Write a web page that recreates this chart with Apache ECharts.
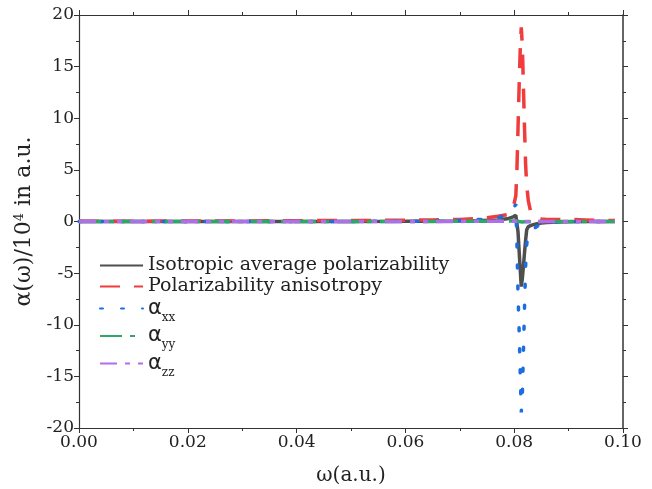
<!DOCTYPE html>
<html>
<head>
<meta charset="utf-8">
<script src="https://cdn.jsdelivr.net/npm/echarts@6/dist/echarts.min.js"></script>
<style>html,body{margin:0;padding:0;background:#fff}#c{width:652px;height:489px}</style>
</head>
<body>
<div id="c"></div>
<script>
var omega = [0, 0.01, 0.02, 0.03, 0.04, 0.05, 0.06, 0.065, 0.07, 0.074, 0.077, 0.079, 0.0798, 0.0803,
  0.0805, 0.0807, 0.0809, 0.0811, 0.0813, 0.0815, 0.0817, 0.0819, 0.0821, 0.0823,
  0.0826, 0.083, 0.0835, 0.084, 0.0845, 0.085, 0.086, 0.088, 0.09, 0.093, 0.096, 0.0985];
var isoValues = [0, 0, 0, 0, 0, 0.01, 0.02, 0.03, 0.05, 0.1, 0.15, 0.3, 0.45, 0.6,
  0.7, -1.0, -2.8, -4.6, -6.3, -5.5, -4.3, -3.0, -1.8, -0.8,
  -0.5, -0.4, -0.3, -0.25, -0.2, -0.15, -0.1, -0.05, -0.02, 0, 0, 0];
var anisoValues = [0.02, 0.03, 0.05, 0.05, 0.08, 0.1, 0.12, 0.15, 0.2, 0.3, 0.5, 0.7, 1.3, 2.5,
  5, 9, 13, 16.5, 18.8, 17, 13, 9, 5.5, 3.5,
  2, 1, 0.6, 0.4, 0.3, 0.25, 0.2, 0.2, 0.2, 0.15, 0.1, 0.1];
var xxValues = [0, 0, 0, 0, 0, 0.01, 0.02, 0.05, 0.1, 0.2, 0.35, 0.7, 1.2, 1.7,
  -2, -7, -10.4, -14.5, -18.5, -16.6, -12.5, -8.3, -4.3, -2.2,
  -1.3, -0.9, -0.7, -0.55, -0.35, -0.2, -0.1, -0.05, -0.02, 0, 0, 0];
var yyValues = [0, 0, 0, 0, 0, 0, 0.01, 0.01, 0.02, 0.03, 0.04, 0.05, 0.05, 0.06,
  0.05, 0.03, 0, -0.03, -0.05, -0.05, -0.04, -0.03, -0.02, -0.02,
  -0.01, -0.01, 0, 0, 0, 0, 0, 0, 0, 0, 0, 0];
var zzValues = [0, 0, 0, 0, 0, 0, 0, 0.01, 0.01, 0.02, 0.02, 0.03, 0.03, 0.03,
  0.02, 0.01, 0, -0.01, -0.02, -0.02, -0.02, -0.01, -0.01, 0,
  0, 0, 0, 0, 0, 0, 0, 0, 0, 0, 0, 0];
var seriesNames = ['Isotropic average polarizability', 'Polarizability anisotropy', 'axx', 'ayy', 'azz'];
var xTicks = [0, 0.02, 0.04, 0.06, 0.08, 0.10];
var yTicks = [-20, -15, -10, -5, 0, 5, 10, 15, 20];

function pairs(vals) { return omega.map(function (w, i) { return [w, vals[i]]; }); }

var SERIF = 'DejaVu Serif';
var chart = echarts.init(document.getElementById('c'));
function axLine(w) { return { show: true, onZero: false, lineStyle: { color: '#333', width: w } }; }
var tick = { show: true, length: 5, lineStyle: { color: '#333' } };
var minor = { show: true, splitNumber: 2, length: 3, lineStyle: { color: '#333' } };
chart.setOption({
  animation: false,
  grid: { left: 79, right: 29, top: 15, bottom: 61, containLabel: false, outerBoundsMode: 'none' },
  legend: {
    orient: 'vertical', left: 94, top: 251, itemWidth: 43, itemHeight: 14, itemGap: 2,
    data: seriesNames,
    itemStyle: { opacity: 0 },
    formatter: function (n) {
      if (n.charAt(0) === 'a' && n.length === 3) return '{a|α}{s|' + n.slice(1) + '}';
      return '{t|' + n + '}';
    },
    textStyle: {
      color: '#222',
      rich: {
        t: { fontFamily: SERIF, fontSize: 19, lineHeight: 20, color: '#222' },
        a: { fontFamily: 'DejaVu Sans', fontSize: 21, lineHeight: 30, verticalAlign: 'middle', color: '#222' },
        s: { fontFamily: SERIF, fontSize: 12, lineHeight: 30, verticalAlign: 'bottom', color: '#222' }
      }
    }
  },
  xAxis: [{
    type: 'value', min: 0, max: 0.1, interval: 0.02,
    axisLine: axLine(1.2), axisTick: tick, minorTick: minor,
    splitLine: { show: false },
    axisLabel: { fontFamily: SERIF, fontSize: 17, color: '#222', margin: 6,
      formatter: function (v) { return v.toFixed(2); } },
    name: 'ω(a.u.)', nameLocation: 'middle', nameGap: 38,
    nameTextStyle: { fontFamily: SERIF, fontSize: 20, color: '#222' }
  }, {
    type: 'value', min: 0, max: 0.1, interval: 0.02, position: 'top',
    axisLine: axLine(1.2), axisTick: tick, minorTick: minor,
    splitLine: { show: false }, axisLabel: { show: false }
  }],
  yAxis: [{
    type: 'value', min: -20, max: 20, interval: 5,
    axisLine: axLine(1.2), axisTick: tick, minorTick: minor,
    splitLine: { show: false },
    axisLabel: { fontFamily: SERIF, fontSize: 17, color: '#222', margin: 5 },
    name: '{t|α(ω)/10}{sup|4}{t| in a.u.}', nameLocation: 'middle', nameGap: 42,
    nameTextStyle: {
      rich: {
        t: { fontFamily: SERIF, fontSize: 22, color: '#222', lineHeight: 24, verticalAlign: 'middle' },
        sup: { fontFamily: SERIF, fontSize: 13, color: '#222', lineHeight: 24, verticalAlign: 'top' }
      }
    }
  }, {
    type: 'value', min: -20, max: 20, interval: 5, position: 'right',
    axisLine: axLine(1.5), axisTick: tick, minorTick: minor,
    splitLine: { show: false }, axisLabel: { show: false }
  }],
  series: [
    { name: seriesNames[0], type: 'line', data: pairs(isoValues), symbol: 'none', color: '#4f4f4f',
      lineStyle: { width: 3.5, color: '#4f4f4f', type: 'solid' } },
    { name: seriesNames[1], type: 'line', data: pairs(anisoValues), symbol: 'none', color: '#f03c3c',
      lineStyle: { width: 3.5, color: '#f03c3c', type: [20, 14] } },
    { name: seriesNames[2], type: 'line', data: pairs(xxValues), symbol: 'none', color: '#1c6de0',
      lineStyle: { width: 3.5, color: '#1c6de0', type: [3, 18], cap: 'round' } },
    { name: seriesNames[3], type: 'line', data: pairs(yyValues), symbol: 'none', color: '#2ea86a',
      lineStyle: { width: 3.5, color: '#2ea86a', type: [22, 8, 5, 8] } },
    { name: seriesNames[4], type: 'line', data: pairs(zzValues), symbol: 'none', color: '#b06ee8',
      lineStyle: { width: 3.5, color: '#b06ee8', type: [17, 8, 5, 8, 5, 8] } }
  ]
});
</script>
</body>
</html>
